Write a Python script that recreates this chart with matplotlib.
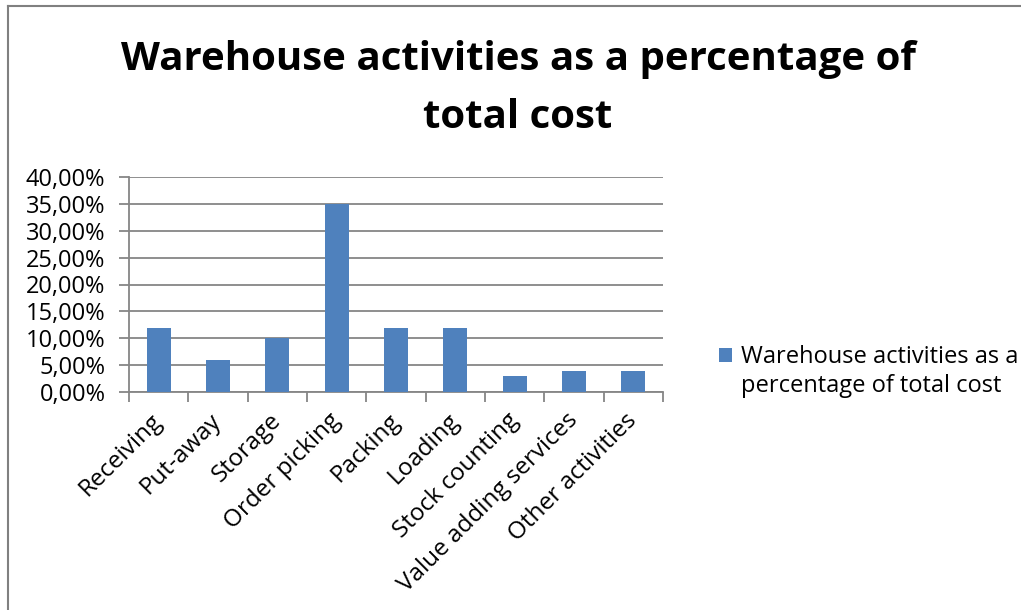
import matplotlib
matplotlib.use("Agg")
import matplotlib.pyplot as plt
from matplotlib.ticker import FuncFormatter, FixedLocator
from matplotlib.lines import Line2D
from matplotlib.patches import Rectangle
from matplotlib.legend_handler import HandlerPatch

categories = ["Receiving", "Put-away", "Storage", "Order picking", "Packing",
              "Loading", "Stock counting", "Value adding services", "Other activities"]
values = [0.12, 0.06, 0.10, 0.35, 0.12, 0.12, 0.03, 0.04, 0.04]
series_name = "Warehouse activities as a percentage of total cost"
title = "Warehouse activities as a percentage of\ntotal cost"
y_ticks = [0.0, 0.05, 0.10, 0.15, 0.20, 0.25, 0.30, 0.35, 0.40]

W, H = 1021, 610
FONT = "Open Sans"
BAR = "#4F81BD"
GRID = "#868686"

plt.rcParams['font.family'] = [FONT, 'DejaVu Sans']
fig = plt.figure(figsize=(W / 100, H / 100), dpi=100)

# outer chart border (top and left visible)
fig.add_artist(Line2D([8 / W, 8 / W], [0, 1 - 6 / H], transform=fig.transFigure,
                      color="#808080", lw=1.5))
fig.add_artist(Line2D([8 / W, 1], [1 - 6 / H, 1 - 6 / H], transform=fig.transFigure,
                      color="#808080", lw=1.5))

left, right, top, bottom = 129, 663, 177, 392
ax = fig.add_axes([left / W, 1 - bottom / H, (right - left) / W, (bottom - top) / H])

x = list(range(len(categories)))
bars = ax.bar(x, values, width=0.41, color=BAR, label=series_name.replace("as a ", "as a\n"),
              zorder=3)

ax.set_xlim(-0.5, len(categories) - 0.5)
ax.set_ylim(0, 0.40)
ax.set_yticks(y_ticks)
ax.yaxis.set_major_formatter(FuncFormatter(lambda v, p: f"{v*100:.2f}%".replace(".", ",")))
ax.grid(axis="y", color=GRID, lw=1.3, zorder=0)

ax.set_xticks(x)
ax.set_xticklabels(categories, rotation=45, ha="right", va="center", rotation_mode="anchor")
ax.xaxis.set_minor_locator(FixedLocator([i - 0.5 for i in range(len(categories) + 1)]))
ax.tick_params(axis="x", which="major", length=0, pad=18, labelsize=17.5)
ax.tick_params(axis="x", which="minor", length=7, color=GRID, width=1.3)
ax.tick_params(axis="y", length=7, color=GRID, width=1.3, labelsize=17, pad=10)

for s in ["top", "right"]:
    ax.spines[s].set_visible(False)
for s in ["left", "bottom"]:
    ax.spines[s].set_color(GRID)
    ax.spines[s].set_linewidth(1.3)

fig.text(518 / W, 1 - 40 / H, title, ha="center", va="top", fontsize=29,
         fontweight="bold", linespacing=1.62)


def top_square(legend, orig_handle, xdescent, ydescent, width, height, fontsize):
    return Rectangle((-xdescent, -ydescent + 0.72 * fontsize), width, height)


def copy_style(legend_handle, orig_handle):
    legend_handle.update_from(orig_handle.patches[0])


leg = fig.legend(loc="upper left", bbox_to_anchor=(719 / W, 1 - 345 / H), frameon=False,
                 fontsize=17, handlelength=0.55, handleheight=0.55, handletextpad=0.4,
                 borderpad=0, borderaxespad=0, labelspacing=0,
                 handler_map={type(bars): HandlerPatch(patch_func=top_square,
                                                       update_func=copy_style)})
for t in leg.get_texts():
    t.set_linespacing(1.3)

fig.savefig("out.png", dpi=100)
